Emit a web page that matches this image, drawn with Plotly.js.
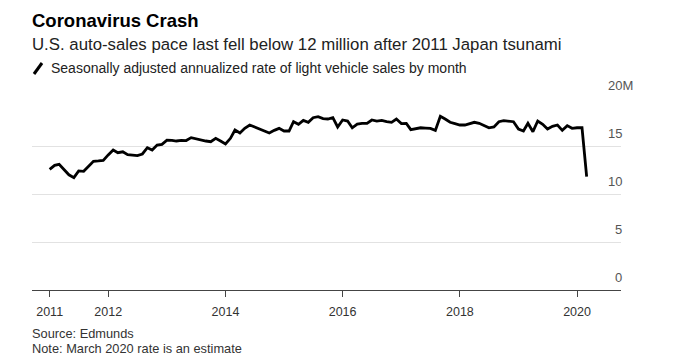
<!DOCTYPE html>
<html>
<head>
<meta charset="utf-8">
<script src="https://cdn.plot.ly/plotly-3.0.1.min.js"></script>
<style>
  html, body { margin: 0; padding: 0; background: #fff; }
  #chart { width: 692px; height: 358px; }
</style>
</head>
<body>
<div id="chart"></div>
<script>
// ---- Data ----
const startYear = 2011;           // first month is January 2011
// Seasonally adjusted annualized rate of light vehicle sales, millions, Jan 2011 .. Mar 2020
const saarMillions = [
  12.57, 12.99, 13.09, 12.50, 12.00, 11.70, 12.40, 12.36, 12.85, 13.40, 13.44, 13.50, // 2011
  14.07, 14.58, 14.30, 14.40, 14.10, 14.07, 14.00, 14.17, 14.82, 14.58, 15.10, 15.17, // 2012
  15.60, 15.59, 15.52, 15.58, 15.57, 15.87, 15.73, 15.59, 15.52, 15.45, 15.80, 15.52, // 2013
  15.21, 15.80, 16.67, 16.35, 16.84, 17.19, 16.98, 16.84, 16.56, 16.35, 16.63, 16.84, // 2014
  16.56, 16.56, 17.53, 17.26, 17.67, 17.47, 17.95, 18.05, 17.85, 17.81, 17.95, 16.98, // 2015
  17.71, 17.60, 16.90, 17.29, 17.36, 17.36, 17.71, 17.60, 17.67, 17.53, 17.47, 17.81, // 2016
  17.33, 17.36, 16.70, 16.84, 16.90, 16.87, 16.84, 16.63, 18.10, 17.81, 17.47, 17.33, // 2017
  17.19, 17.19, 17.36, 17.47, 17.36, 17.12, 16.90, 16.98, 17.53, 17.64, 17.57, 17.53, // 2018
  16.77, 16.56, 17.36, 16.49, 17.60, 17.26, 16.77, 17.05, 17.19, 16.63, 17.12, 16.84, // 2019
  16.90, 16.90, 11.80                                                                  // 2020
];
const xTickYears = [2011, 2012, 2014, 2016, 2018, 2020];
const xTickLabels = ['2011', '2012', '2014', '2016', '2018', '2020'];
const yTickValues = [0, 5, 10, 15, 20];
const yTickLabels = ['0', '5', '10', '15', '20M'];

const titleText = 'Coronavirus Crash';
const subtitleText = 'U.S. auto-sales pace last fell below 12 million after 2011 Japan tsunami';
const legendText = 'Seasonally adjusted annualized rate of light vehicle sales by month';
const sourceText = 'Source: Edmunds';
const noteText = 'Note: March 2020 rate is an estimate';

// ---- Build month dates ----
const months = saarMillions.map((_, i) => {
  const y = startYear + Math.floor(i / 12);
  const m = (i % 12) + 1;
  return y + '-' + String(m).padStart(2, '0') + '-01';
});

// ---- Geometry helpers (pixel -> paper) ----
const W = 692, H = 358;
const M = { l: 32, r: 71, t: 98, b: 68 };
const plotW = W - M.l - M.r, plotH = H - M.t - M.b;
const px = p => (p - M.l) / plotW;
const py = p => (H - M.b - p) / plotH;

const FONT = 'Liberation Sans, Arial, sans-serif';

const annotations = [
  { text: '<b>' + titleText + '</b>', x: px(31), y: py(21), xanchor: 'left', yanchor: 'middle',
    font: { size: 18.5, color: '#000', family: FONT } },
  { text: subtitleText, x: px(31), y: py(45), xanchor: 'left', yanchor: 'middle',
    font: { size: 16.8, color: '#222', family: FONT } },
  { text: legendText, x: px(50), y: py(68), xanchor: 'left', yanchor: 'middle',
    font: { size: 14, color: '#222', family: FONT } },
  { text: sourceText, x: px(31), y: py(333), xanchor: 'left', yanchor: 'middle',
    font: { size: 12.8, color: '#333', family: FONT } },
  { text: noteText, x: px(31), y: py(348), xanchor: 'left', yanchor: 'middle',
    font: { size: 12.8, color: '#333', family: FONT } }
].map(a => Object.assign({ xref: 'paper', yref: 'paper', showarrow: false, borderpad: 0 }, a));

yTickValues.forEach((v, i) => {
  const lbl = yTickLabels[i];
  annotations.push({
    xref: 'paper', yref: 'y', x: 1, y: v, xanchor: 'right', yanchor: 'middle',
    xshift: lbl.endsWith('M') ? 13 : 2, yshift: 13, showarrow: false, borderpad: 0,
    text: lbl, font: { size: 13, color: '#555', family: FONT }
  });
});

const shapes = [
  { type: 'line', xref: 'paper', yref: 'paper', x0: px(34), y0: py(74), x1: px(42), y1: py(63),
    line: { color: '#000', width: 3 } }
];

const trace = {
  x: months, y: saarMillions, type: 'scatter', mode: 'lines',
  line: { color: '#000', width: 2.8 }, hoverinfo: 'skip'
};

const layout = {
  width: W, height: H,
  margin: M,
  paper_bgcolor: '#fff', plot_bgcolor: '#fff',
  showlegend: false,
  font: { family: FONT, color: '#333' },
  xaxis: {
    type: 'date',
    range: ['2010-09-13', '2020-10-01'],
    tickvals: xTickYears.map(y => y + '-01-01'),
    ticktext: xTickLabels,
    ticks: 'outside', ticklen: 6, tickwidth: 1, tickcolor: '#444',
    ticklabelstandoff: 4,
    showline: true, linecolor: '#444', linewidth: 1,
    showgrid: false, zeroline: false,
    tickfont: { size: 12.5, color: '#333', family: FONT },
    fixedrange: true
  },
  yaxis: {
    range: [0, 20], tick0: 0, dtick: 5,
    showticklabels: false, ticks: '',
    showgrid: true, gridcolor: '#e2e2e2', gridwidth: 1,
    zeroline: false, showline: false, fixedrange: true
  },
  annotations: annotations,
  shapes: shapes
};

Plotly.newPlot('chart', [trace], layout, { staticPlot: true, displayModeBar: false });
</script>
</body>
</html>
